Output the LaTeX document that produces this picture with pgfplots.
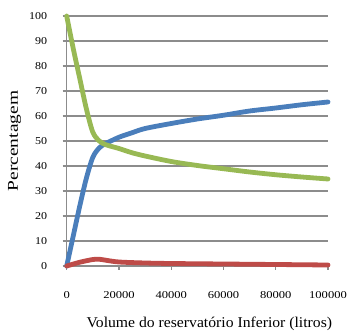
\documentclass[border=0pt]{standalone}
\usepackage{graphicx}
\usepackage{pgfplots}
\pgfplotsset{compat=1.18}
\usepackage{fontspec}
\setmainfont{Liberation Serif}
\definecolor{xlblue}{HTML}{4A7EBB}
\definecolor{xlred}{HTML}{BE4B48}
\definecolor{xlgreen}{HTML}{98B954}
\definecolor{gridgray}{HTML}{8C8C8C}
\begin{document}
\begin{tikzpicture}
\begin{axis}[
  scale only axis,
  width=261.3bp, height=250bp,
  xmin=0, xmax=100000, ymin=0, ymax=100,
  axis lines=left,
  axis line style={gridgray, line width=1.2bp, -},
  xtick={0,20000,40000,60000,80000,100000},
  ytick={0,10,...,100},
  scaled x ticks=false,
  /pgf/number format/1000 sep={},
  /pgf/number format/assume math mode=true,
  tick align=outside,
  major tick length=4bp,
  tick style={gridgray, line width=1.2bp},
  ymajorgrids,
  grid style={gridgray, line width=1.3bp},
  xticklabel={\scalebox{1.2}[1]{\pgfmathprintnumber[fixed,precision=0,1000 sep={}]{\tick}}},
  yticklabel={\scalebox{1.15}[1]{\pgfmathprintnumber[fixed,precision=0]{\tick}}},
  xticklabel style={font=\fontsize{10.5}{12}\selectfont, anchor=base, yshift=-28bp},
  yticklabel style={font=\fontsize{10.5}{12}\selectfont, anchor=east, xshift=-12bp},
  xlabel={\scalebox{1.05}[1]{Volume do reservatório Inferior (litros)}},
  xlabel style={font=\fontsize{15}{18}\selectfont, at={(axis description cs:0.5,0)}, anchor=center, yshift=-58bp, xshift=12bp},
  ylabel={\scalebox{1.3}[1]{Percentagem}},
  ylabel style={font=\fontsize{15}{18}\selectfont, at={(axis description cs:-0.199,0.5)}, anchor=center},
  clip=false,
]
\addplot[xlblue, line width=4.8bp, line cap=round, line join=round, smooth, tension=0.5] coordinates {
(0,0) (2500,12) (5000,24) (7500,35) (10000,43.5) (12500,47.3) (15000,49) (20000,51.5)
(25000,53.3) (30000,55) (40000,57) (50000,58.8) (60000,60.3) (70000,62) (80000,63.2)
(90000,64.5) (100000,65.6)};
\addplot[xlred, line width=4.8bp, line cap=round, line join=round, smooth, tension=0.5] coordinates {
(0,0) (5000,1.5) (10000,2.6) (12500,2.7) (15000,2.3) (20000,1.6) (30000,1.2)
(40000,1.0) (60000,0.8) (80000,0.6) (100000,0.4)};
\addplot[xlgreen, line width=4.8bp, line cap=round, line join=round, smooth, tension=0.5] coordinates {
(0,100) (2500,87) (5000,75) (7500,63) (10000,53.5) (12500,50) (15000,48.5) (20000,47)
(25000,45.3) (30000,44) (40000,41.8) (50000,40.2) (60000,38.9) (70000,37.6)
(80000,36.5) (90000,35.6) (100000,34.8)};
\end{axis}
\path[use as bounding box] (-66.7bp,-67bp) rectangle ++(351bp,333bp);
\end{tikzpicture}
\end{document}
